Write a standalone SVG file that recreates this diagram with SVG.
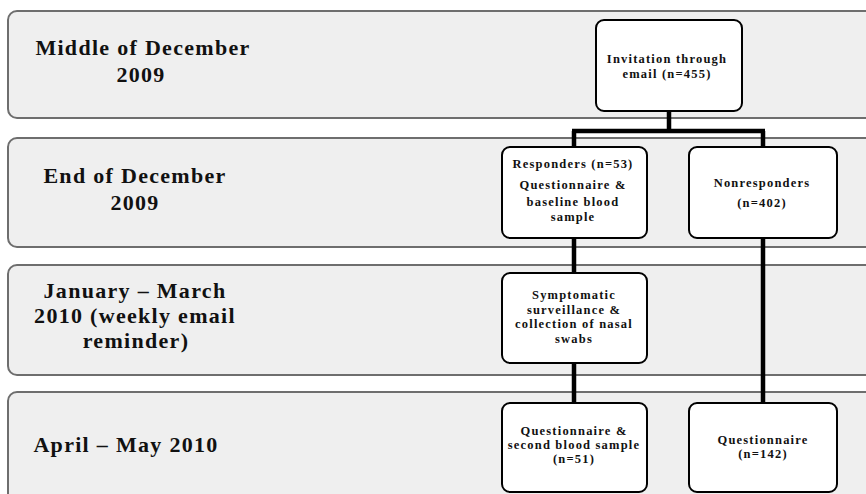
<svg xmlns="http://www.w3.org/2000/svg" width="866" height="494" viewBox="0 0 866 494">
<style>
.band{fill:#efefef;stroke:#6e6e6e;stroke-width:2}
.node{fill:#ffffff;stroke:#000;stroke-width:2}
.lbl{font-family:"Liberation Serif",serif;font-weight:bold;font-size:22px;letter-spacing:1.3px;fill:#111;text-anchor:middle}
.nt{font-family:"Liberation Serif",serif;font-weight:bold;font-size:12.5px;letter-spacing:1.2px;fill:#111;text-anchor:middle}
.conn{stroke:#000;stroke-width:4.5;fill:none}
</style>
<rect width="866" height="494" fill="#ffffff"/>
<g id="bands">
<rect class="band" x="8" y="11" width="880" height="107" rx="9"/>
<rect class="band" x="8" y="138" width="880" height="109" rx="9"/>
<rect class="band" x="8" y="265" width="880" height="110" rx="9"/>
<rect class="band" x="8" y="392" width="880" height="120" rx="9"/>
</g>
<g id="labels">
<text class="lbl" x="143" y="55">Middle of December</text>
<text class="lbl" x="141" y="82">2009</text>
<text class="lbl" x="135" y="183">End of December</text>
<text class="lbl" x="135" y="210">2009</text>
<text class="lbl" x="135" y="298">January – March</text>
<text class="lbl" x="135" y="323">2010 (weekly email</text>
<text class="lbl" x="136" y="348">reminder)</text>
<text class="lbl" x="126" y="452">April – May 2010</text>
</g>
<g id="connectors">
<path class="conn" d="M669 111 V131 M572 131 H765 M574 131 V147 M763 131 V147"/>
<path class="conn" d="M574 238 V273 M574 363 V403 M763 238 V403"/>
</g>
<g id="invitation">
<rect class="node" x="596" y="20" width="146" height="91" rx="8"/>
<text class="nt" x="667" y="63">Invitation through</text>
<text class="nt" x="667" y="78">email (n=455)</text>
</g>
<g id="responders">
<rect class="node" x="502" y="147" width="145" height="91" rx="8"/>
<text class="nt" x="573" y="168">Responders (n=53)</text>
<text class="nt" x="573" y="189">Questionnaire &amp;</text>
<text class="nt" x="573" y="206">baseline blood</text>
<text class="nt" x="573" y="221">sample</text>
</g>
<g id="nonresponders">
<rect class="node" x="689" y="147" width="148" height="91" rx="8"/>
<text class="nt" x="762" y="187">Nonresponders</text>
<text class="nt" x="762" y="207">(n=402)</text>
</g>
<g id="symptomatic">
<rect class="node" x="502" y="273" width="145" height="90" rx="8"/>
<text class="nt" x="574" y="299">Symptomatic</text>
<text class="nt" x="574" y="314">surveillance &amp;</text>
<text class="nt" x="574" y="328">collection of nasal</text>
<text class="nt" x="574" y="343">swabs</text>
</g>
<g id="second-sample">
<rect class="node" x="502" y="403" width="145" height="89" rx="8"/>
<text class="nt" x="574" y="435">Questionnaire &amp;</text>
<text class="nt" x="574" y="449">second blood sample</text>
<text class="nt" x="574" y="463">(n=51)</text>
</g>
<g id="questionnaire">
<rect class="node" x="689" y="403" width="148" height="89" rx="8"/>
<text class="nt" x="763" y="444">Questionnaire</text>
<text class="nt" x="763" y="458">(n=142)</text>
</g>
</svg>
